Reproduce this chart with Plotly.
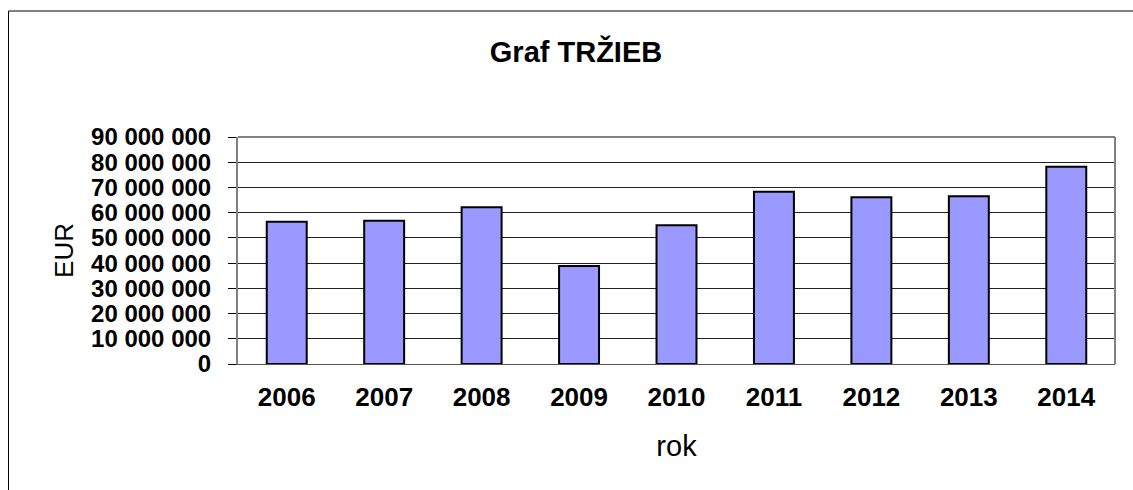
import plotly.graph_objects as go

years = ["2006", "2007", "2008", "2009", "2010", "2011", "2012", "2013", "2014"]
revenue = [56400000, 56800000, 62100000, 38900000, 55000000, 68300000, 66100000, 66500000, 78200000]
y_ticks = [0, 10000000, 20000000, 30000000, 40000000, 50000000, 60000000, 70000000, 80000000, 90000000]

W, H = 1133, 490
L, R, T, B = 238, 18, 137, 126
pw, ph = W - L - R, H - T - B

def px_x(x):
    return (x - L) / pw

def px_y(y):
    return (H - B - y) / ph

FONT = "Liberation Sans, Arial, sans-serif"

fig = go.Figure()
fig.add_trace(go.Bar(
    x=years, y=revenue, width=0.41,
    marker=dict(color="#9999FF", line=dict(color="black", width=2)),
))

fig.update_layout(
    width=W, height=H,
    margin=dict(l=L, r=R, t=T, b=B, autoexpand=False),
    paper_bgcolor="white", plot_bgcolor="white",
    separators=", ",
    showlegend=False,
    title=dict(text="<b>Graf TRŽIEB</b>", x=576 / W, xanchor="center",
               y=1 - 52 / H, yanchor="middle",
               font=dict(family=FONT, size=29, color="black")),
    xaxis=dict(
        type="category",
        showgrid=False, ticks="", showline=True, linecolor="#555555", linewidth=1,
        tickfont=dict(family=FONT, size=26, color="black", weight="bold"),
        ticklabelstandoff=10,
        title=dict(text="rok", font=dict(family=FONT, size=29, color="black"), standoff=24),
        mirror=False,
    ),
    yaxis=dict(
        range=[0, 90000000], tickvals=y_ticks, tickformat=",d",
        showgrid=True, gridcolor="#222222", gridwidth=1,
        ticks="outside", ticklen=8, tickcolor="black", tickwidth=1,
        showline=True, linecolor="#808080", linewidth=2,
        tickfont=dict(family=FONT, size=24, color="black", weight="bold"),
        ticklabelstandoff=12,
        title=dict(text="EUR", font=dict(family=FONT, size=26, color="black"), standoff=10),
        zeroline=False,
    ),
    shapes=[
        dict(type="line", xref="paper", yref="paper", x0=0, x1=1, y0=1, y1=1,
             line=dict(color="#808080", width=2)),
        dict(type="line", xref="paper", yref="paper", x0=1, x1=1, y0=0, y1=1,
             line=dict(color="#808080", width=2)),
        dict(type="line", xref="paper", yref="paper", x0=px_x(8.5), x1=px_x(W + 5),
             y0=px_y(11), y1=px_y(11), line=dict(color="#808080", width=2)),
        dict(type="line", xref="paper", yref="paper", x0=px_x(8.5), x1=px_x(8.5),
             y0=px_y(11), y1=px_y(H + 5), line=dict(color="black", width=1)),
    ],
)

fig.write_html("out.html", config={"displayModeBar": False},
               post_script="document.body.style.margin='0';document.body.style.overflow='hidden';")
